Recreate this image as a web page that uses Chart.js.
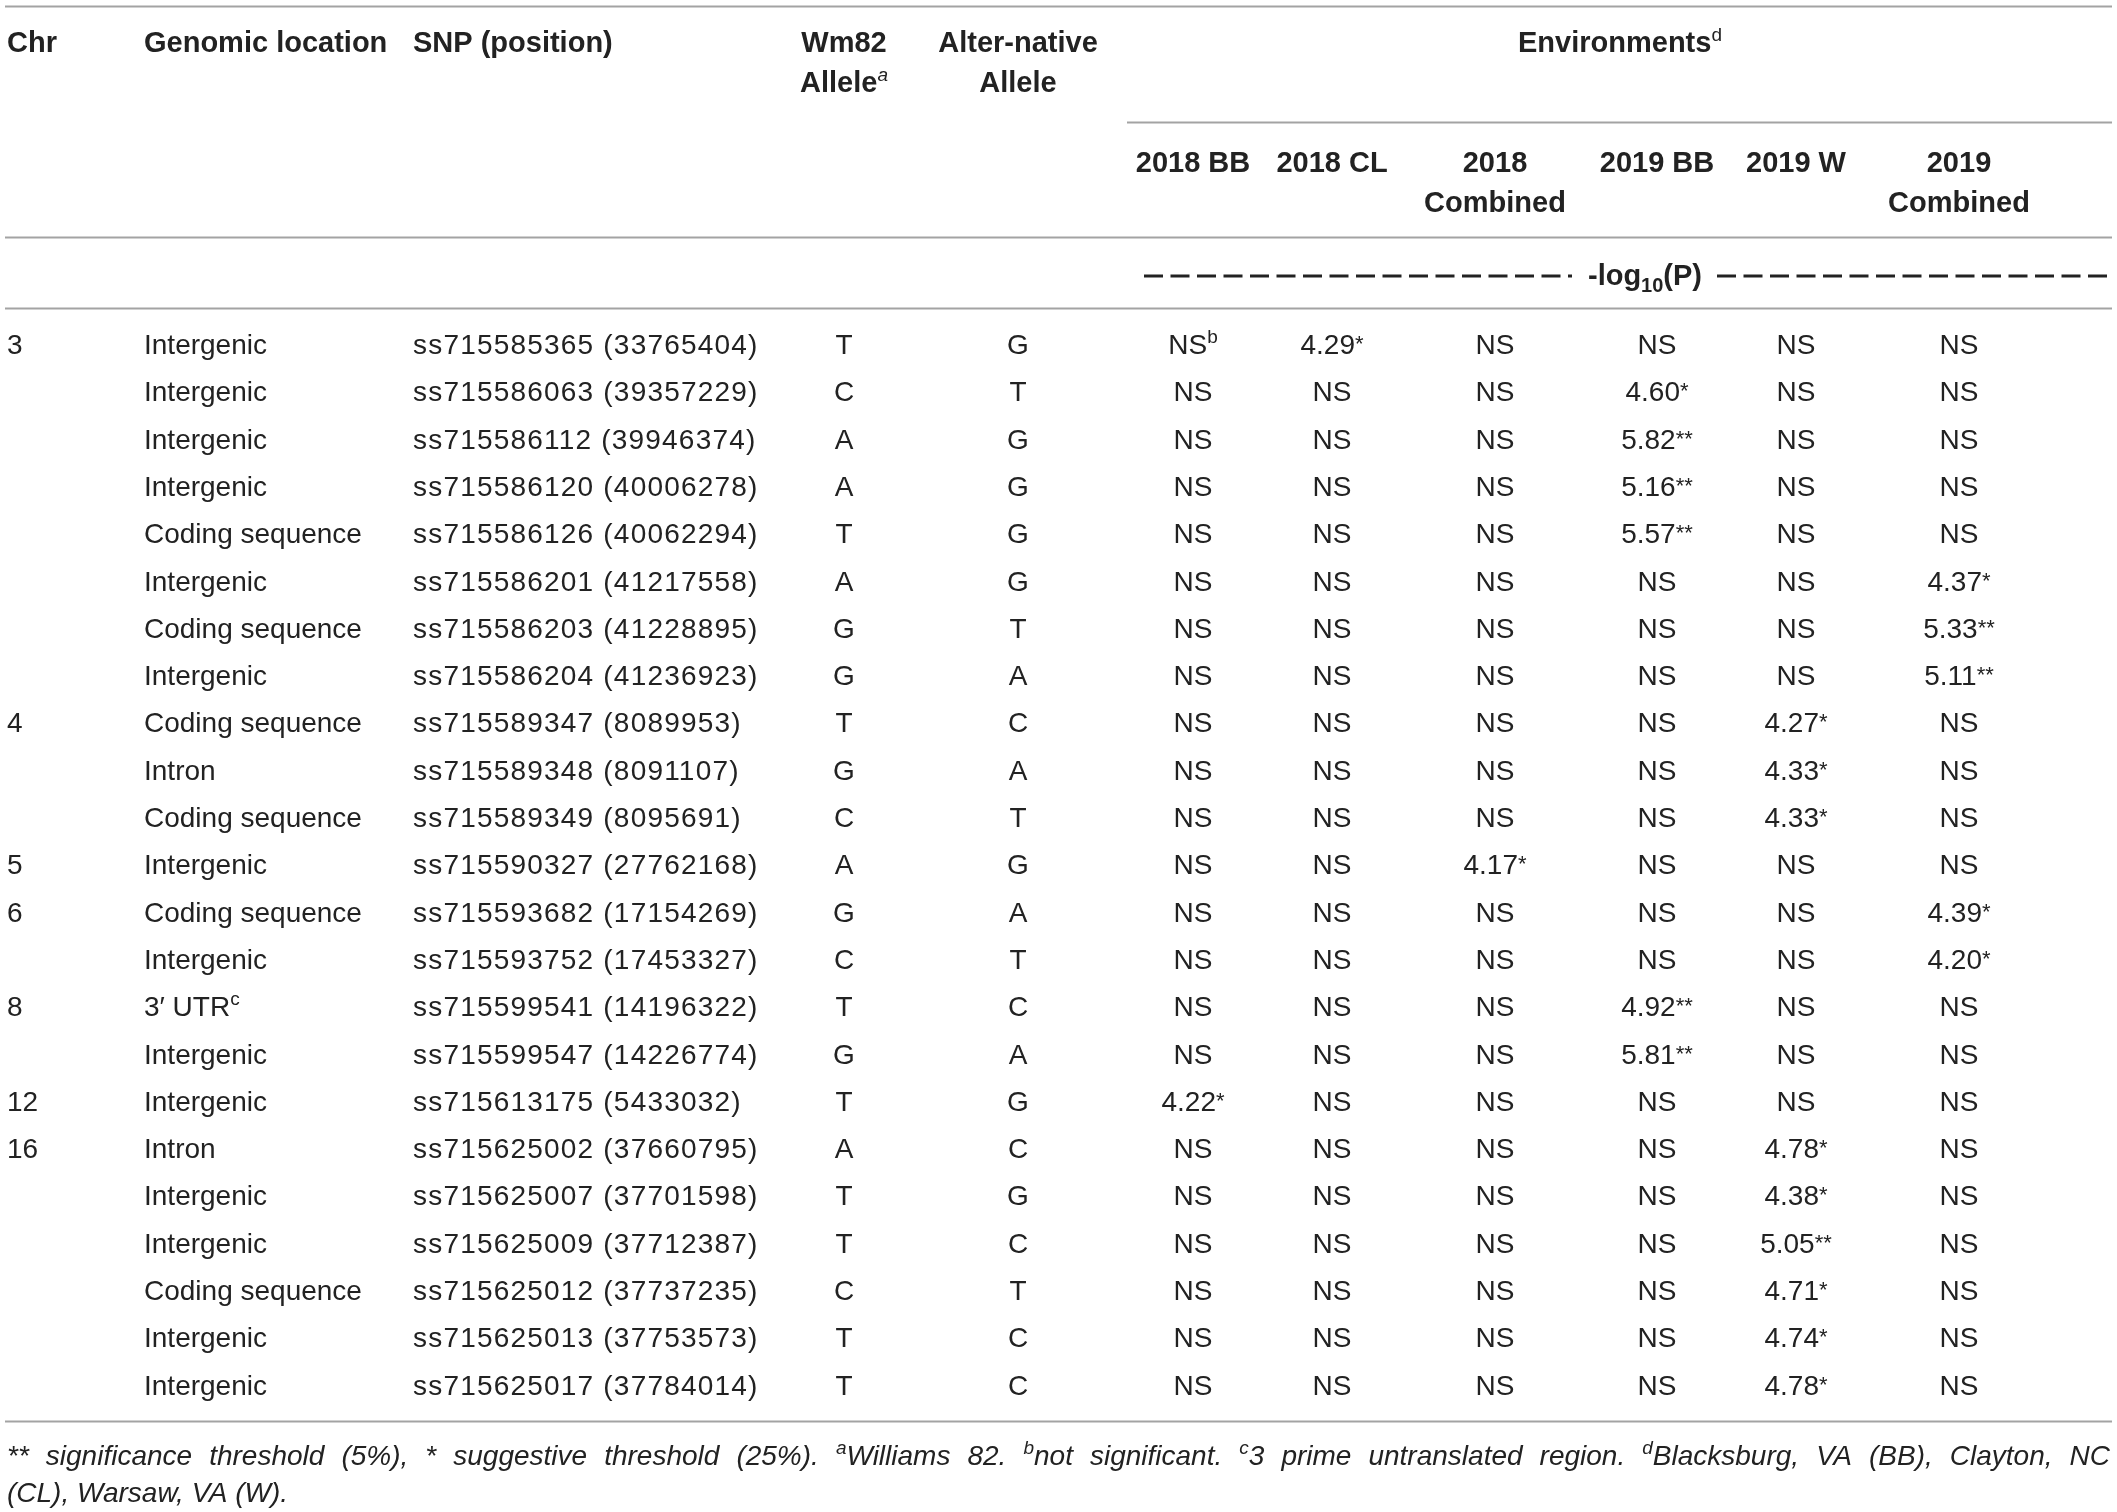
<!DOCTYPE html>
<html>
<head>
<meta charset="utf-8">
<script src="https://cdn.jsdelivr.net/npm/chart.js@4.4.1/dist/chart.umd.min.js"></script>
<style>
  html, body { margin: 0; padding: 0; background: #fff; }
  #wrap { width: 2117px; height: 1512px; position: relative; }
</style>
</head>
<body>
<div id="wrap"><canvas id="table"></canvas></div>
<script>
// table values, one array per column ("|x" = superscript note)
const chromosomes = ["3", "", "", "", "", "", "", "", "4", "", "", "5", "6", "", "8", "", "12", "16", "", "", "", "", ""];
const locations = [
  "Intergenic", "Intergenic", "Intergenic", "Intergenic", "Coding sequence", "Intergenic", "Coding sequence", "Intergenic",
  "Coding sequence", "Intron", "Coding sequence", "Intergenic", "Coding sequence", "Intergenic", "3\u2032 UTR|c", "Intergenic",
  "Intergenic", "Intron", "Intergenic", "Intergenic", "Coding sequence", "Intergenic", "Intergenic"
];
const snps = [
  "ss715585365 (33765404)", "ss715586063 (39357229)", "ss715586112 (39946374)", "ss715586120 (40006278)",
  "ss715586126 (40062294)", "ss715586201 (41217558)", "ss715586203 (41228895)", "ss715586204 (41236923)",
  "ss715589347 (8089953)", "ss715589348 (8091107)", "ss715589349 (8095691)", "ss715590327 (27762168)",
  "ss715593682 (17154269)", "ss715593752 (17453327)", "ss715599541 (14196322)", "ss715599547 (14226774)",
  "ss715613175 (5433032)", "ss715625002 (37660795)", "ss715625007 (37701598)", "ss715625009 (37712387)",
  "ss715625012 (37737235)", "ss715625013 (37753573)", "ss715625017 (37784014)"
];
const wm82Allele = ["T", "C", "A", "A", "T", "A", "G", "G", "T", "G", "C", "A", "G", "C", "T", "G", "T", "A", "T", "T", "C", "T", "T"];
const altAllele = ["G", "T", "G", "G", "G", "G", "T", "A", "C", "A", "T", "G", "A", "T", "C", "A", "G", "C", "G", "C", "T", "C", "C"];

const env2018BB = ["NS|b", "NS", "NS", "NS", "NS", "NS", "NS", "NS", "NS", "NS", "NS", "NS", "NS", "NS", "NS", "NS", "4.22*", "NS", "NS", "NS", "NS", "NS", "NS"];
const env2018CL = ["4.29*", "NS", "NS", "NS", "NS", "NS", "NS", "NS", "NS", "NS", "NS", "NS", "NS", "NS", "NS", "NS", "NS", "NS", "NS", "NS", "NS", "NS", "NS"];
const env2018Comb = ["NS", "NS", "NS", "NS", "NS", "NS", "NS", "NS", "NS", "NS", "NS", "4.17*", "NS", "NS", "NS", "NS", "NS", "NS", "NS", "NS", "NS", "NS", "NS"];
const env2019BB = ["NS", "4.60*", "5.82**", "5.16**", "5.57**", "NS", "NS", "NS", "NS", "NS", "NS", "NS", "NS", "NS", "4.92**", "5.81**", "NS", "NS", "NS", "NS", "NS", "NS", "NS"];
const env2019W = ["NS", "NS", "NS", "NS", "NS", "NS", "NS", "NS", "4.27*", "4.33*", "4.33*", "NS", "NS", "NS", "NS", "NS", "NS", "4.78*", "4.38*", "5.05**", "4.71*", "4.74*", "4.78*"];
const env2019Comb = ["NS", "NS", "NS", "NS", "NS", "4.37*", "5.33**", "5.11**", "NS", "NS", "NS", "NS", "4.39*", "4.20*", "NS", "NS", "NS", "NS", "NS", "NS", "NS", "NS", "NS"];

const mainHeaders = [["Chr"], ["Genomic location"], ["SNP (position)"], ["Wm82", "Allele|a"], ["Alter-native", "Allele"]];
const envHeaders = [["2018 BB"], ["2018 CL"], ["2018", "Combined"], ["2019 BB"], ["2019 W"], ["2019", "Combined"]];
const groupHeader = "Environments|d";
const footnoteLine1 = "** significance threshold (5%), * suggestive threshold (25%). ^aWilliams 82. ^bnot significant. ^c3 prime untranslated region. ^dBlacksburg, VA (BB), Clayton, NC";
const footnoteLine2 = "(CL), Warsaw, VA (W).";

// layout
const W = 2117, H = 1512;
const ROW0 = 344, ROW_STEP = 47.3;
const FONT = '"Liberation Sans", Arial, Helvetica, sans-serif';
const INK = "#222";
const RULE = "#a3a3a3";

const columns = [
  { values: chromosomes, x: 7, align: "left" },
  { values: locations, x: 144, align: "left" },
  { values: snps, x: 413, align: "left", spacing: "1.2px" },
  { values: wm82Allele, x: 844, align: "center" },
  { values: altAllele, x: 1018, align: "center" },
  { values: env2018BB, x: 1193, align: "center" },
  { values: env2018CL, x: 1332, align: "center" },
  { values: env2018Comb, x: 1495, align: "center" },
  { values: env2019BB, x: 1657, align: "center" },
  { values: env2019W, x: 1796, align: "center" },
  { values: env2019Comb, x: 1959, align: "center" }
];

// vertical positions in row units (row i sits at y = i)
const Y = {
  topRule: -7.14, head1: -6.39, head2: -5.54, envRule: -4.70,
  sub1: -3.85, sub2: -3.01, headRule: -2.27, logRow: -1.46, logRule: -0.76,
  bottomRule: 22.77, foot1: 23.49, foot2: 24.27
};

function segmentsFor(str, base, opts = {}) {
  const [main, sup] = str.split("|");
  const m = main.match(/^(.*?)(\*+)$/);
  const segs = [];
  if (m) {
    segs.push({ t: m[1], font: base.font, dy: 0 });
    segs.push({ t: m[2], font: base.starFont, dy: -3 });
  } else {
    segs.push({ t: main, font: base.font, dy: 0 });
  }
  if (sup) segs.push({ t: sup, font: opts.supItalic ? base.supItalicFont : base.supFont, dy: -11 });
  return segs;
}

function drawSegs(ctx, segs, x, y, align) {
  let w = 0;
  segs.forEach(s => { ctx.font = s.font; s.w = ctx.measureText(s.t).width; w += s.w; });
  let cx = align === "center" ? x - w / 2 : align === "right" ? x - w : x;
  ctx.textAlign = "left";
  ctx.textBaseline = "alphabetic";
  segs.forEach(s => { ctx.font = s.font; ctx.fillText(s.t, cx, y + s.dy); cx += s.w; });
  return w;
}

const bodyFont = {
  font: "28px " + FONT, starFont: "22px " + FONT,
  supFont: "19px " + FONT, supItalicFont: "italic 19px " + FONT
};
const headFont = {
  font: "bold 29px " + FONT, starFont: "bold 22px " + FONT,
  supFont: "19px " + FONT, supItalicFont: "italic 19px " + FONT
};
const footFont = {
  font: "italic 28px " + FONT, starFont: "italic 28px " + FONT,
  supFont: "italic 19px " + FONT, supItalicFont: "italic 19px " + FONT
};

function footWords(line) {
  return line.split(" ").map(w => {
    if (w.startsWith("^")) {
      return [{ t: w[1], font: footFont.supFont, dy: -11 }, { t: w.slice(2), font: footFont.font, dy: 0 }];
    }
    return [{ t: w, font: footFont.font, dy: 0 }];
  });
}

const tablePlugin = {
  id: "tableText",
  afterDatasetsDraw(chart) {
    const ctx = chart.ctx;
    const xs = chart.scales.x, ys = chart.scales.y;
    const px = v => xs.getPixelForValue(v);
    const py = v => ys.getPixelForValue(v);
    const base = 10; // cap-centre to baseline offset
    ctx.save();
    ctx.fillStyle = INK;

    // rules
    ctx.strokeStyle = RULE;
    ctx.lineWidth = 2;
    [[Y.topRule, 5, 2112], [Y.envRule, 1127, 2112], [Y.headRule, 5, 2112], [Y.logRule, 5, 2112], [Y.bottomRule, 5, 2112]]
      .forEach(([yv, x0, x1]) => {
        ctx.beginPath();
        ctx.moveTo(px(x0), Math.round(py(yv)) + 0.5);
        ctx.lineTo(px(x1), Math.round(py(yv)) + 0.5);
        ctx.stroke();
      });

    // headers
    mainHeaders.forEach((lines, c) => {
      const col = columns[c];
      lines.forEach((txt, k) => {
        drawSegs(ctx, segmentsFor(txt, headFont, { supItalic: true }), px(col.x), py(k ? Y.head2 : Y.head1) + base, col.align);
      });
    });
    drawSegs(ctx, segmentsFor(groupHeader, headFont), px(1620), py(Y.head1) + base, "center");
    envHeaders.forEach((lines, e) => {
      const col = columns[5 + e];
      lines.forEach((txt, k) => {
        drawSegs(ctx, segmentsFor(txt, headFont), px(col.x), py(k ? Y.sub2 : Y.sub1) + base, "center");
      });
    });

    // -log10(P) row
    const ly = py(Y.logRow);
    drawSegs(ctx, [
      { t: "-log", font: "bold 29px " + FONT, dy: 0 },
      { t: "10", font: "bold 20px " + FONT, dy: 7 },
      { t: "(P)", font: "bold 29px " + FONT, dy: 0 }
    ], px(1645), ly + base, "center");
    ctx.strokeStyle = INK;
    ctx.lineWidth = 3;
    ctx.setLineDash([19, 7.5]);
    [[1144, 1572], [1717, 2110]].forEach(([a, b]) => {
      ctx.beginPath();
      ctx.moveTo(px(a), ly + 1);
      ctx.lineTo(px(b), ly + 1);
      ctx.stroke();
    });
    ctx.setLineDash([]);

    // body cells, placed at the dataset points
    chart.data.datasets.forEach((ds, d) => {
      const meta = chart.getDatasetMeta(d);
      ctx.letterSpacing = ds.spacing || "0px";
      meta.data.forEach((pt, i) => {
        const v = ds.cells[i];
        if (!v) return;
        drawSegs(ctx, segmentsFor(v, bodyFont), pt.x, pt.y + base, ds.align);
      });
      ctx.letterSpacing = "0px";
    });

    // footnotes (first line justified)
    const words = footWords(footnoteLine1);
    let total = 0;
    words.forEach(w => w.forEach(s => { ctx.font = s.font; s.w = ctx.measureText(s.t).width; total += s.w; }));
    const left = px(7), right = px(2110);
    const gap = (right - left - total) / (words.length - 1);
    let cx = left;
    const f1 = py(Y.foot1) + base;
    words.forEach(w => {
      w.forEach(s => { ctx.font = s.font; ctx.fillText(s.t, cx, f1 + s.dy); cx += s.w; });
      cx += gap;
    });
    drawSegs(ctx, footWords(footnoteLine2).flatMap((w, i) => i ? [{ t: " ", font: footFont.font, dy: 0 }, ...w] : w),
      left, py(Y.foot2) + base, "left");

    ctx.restore();
  }
};

new Chart(document.getElementById("table"), {
  type: "scatter",
  data: {
    datasets: columns.map(col => ({
      data: col.values.map((v, i) => ({ x: col.x, y: i })),
      cells: col.values,
      align: col.align,
      spacing: col.spacing,
      pointRadius: 0,
      pointHoverRadius: 0,
      showLine: false
    }))
  },
  options: {
    responsive: true,
    maintainAspectRatio: false,
    animation: false,
    devicePixelRatio: 1,
    layout: { padding: 0 },
    events: [],
    plugins: { legend: { display: false }, tooltip: { enabled: false } },
    scales: {
      x: { type: "linear", display: false, min: 0, max: W },
      y: { type: "linear", display: false, reverse: true, min: -ROW0 / ROW_STEP, max: (H - ROW0) / ROW_STEP }
    }
  },
  plugins: [tablePlugin]
});
</script>
</body>
</html>
